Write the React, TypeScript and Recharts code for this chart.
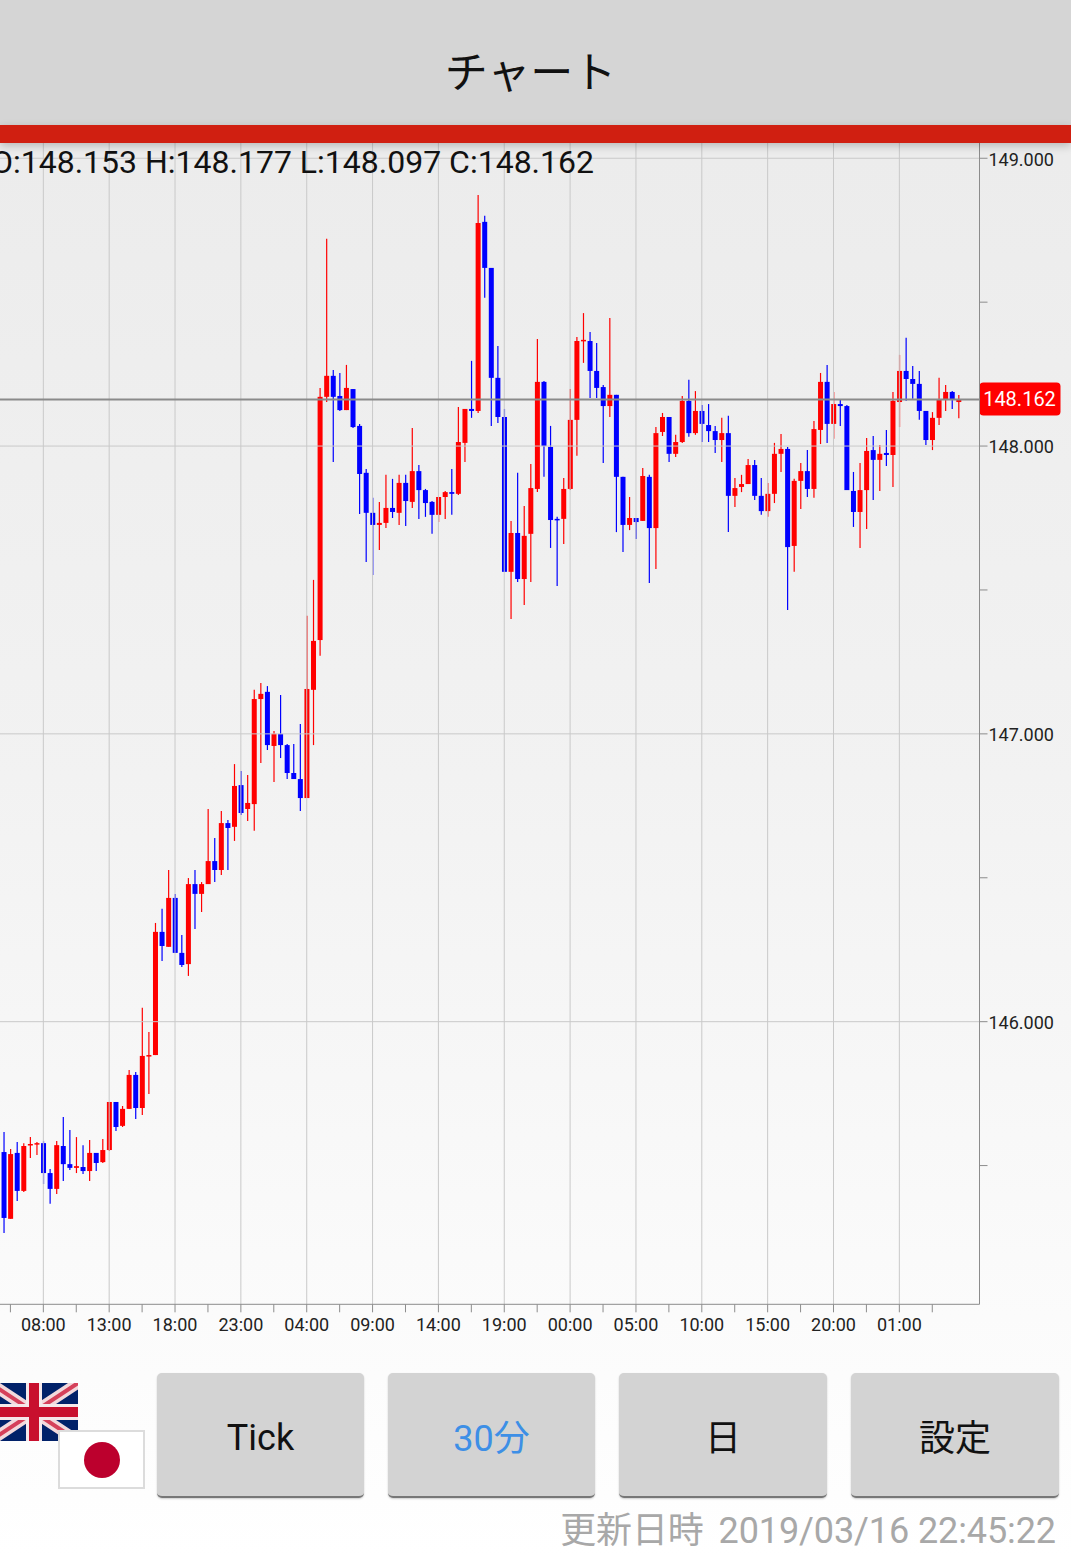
import React from "react"
import { BarChart, Bar, XAxis, YAxis, ReferenceLine } from "recharts"

// 30 minute candles, oldest first
const opens = [
  145.547, 145.315, 145.544, 145.412, 145.571, 145.575, 145.578, 145.474, 145.419, 145.568,
  145.505, 145.492, 145.495, 145.481, 145.544, 145.512, 145.554, 145.721, 145.638, 145.697,
  145.815, 145.700, 145.881, 145.884, 146.312, 146.260, 146.430, 146.239, 146.200, 146.478,
  146.444, 146.478, 146.558, 146.527, 146.690, 146.677, 146.822, 146.739, 146.756, 147.121,
  147.146, 146.958, 147.000, 146.961, 146.864, 146.843, 146.777, 147.153, 147.326, 148.171,
  148.244, 148.174, 148.125, 148.198, 148.070, 147.907, 147.768, 147.726, 147.733, 147.785,
  147.768, 147.872, 147.806, 147.913, 147.847, 147.806, 147.761, 147.823, 147.840, 147.834,
  148.011, 148.129, 148.122, 148.779, 148.619, 148.237, 148.101, 147.563, 147.698, 147.538,
  147.695, 147.851, 148.223, 147.997, 147.747, 147.747, 147.851, 148.091, 148.365, 148.365,
  148.261, 148.205, 148.139, 148.178, 147.893, 147.726, 147.750, 147.740, 147.893, 147.715,
  148.049, 148.101, 147.973, 148.014, 148.157, 148.045, 148.122, 148.073, 148.052, 148.021,
  148.045, 147.827, 147.858, 147.868, 147.934, 147.827, 147.774, 147.834, 147.973, 147.990,
  147.653, 147.879, 147.913, 147.851, 148.056, 148.223, 148.077, 148.146, 148.139, 147.844,
  147.771, 147.847, 147.986, 147.952, 147.976, 147.969, 148.153, 148.261, 148.233, 148.216,
  148.122, 148.021, 148.098, 148.160, 148.188, 148.153,
]
const highs = [
  145.617, 145.558, 145.582, 145.578, 145.599, 145.582, 145.585, 145.488, 145.585, 145.669,
  145.624, 145.599, 145.571, 145.589, 145.544, 145.592, 145.721, 145.721, 145.707, 145.832,
  145.825, 146.048, 145.964, 146.343, 146.392, 146.527, 146.444, 146.301, 146.499, 146.527,
  146.485, 146.739, 146.638, 146.732, 146.701, 146.895, 146.871, 146.857, 147.153, 147.177,
  147.166, 147.010, 147.135, 146.965, 146.965, 147.034, 147.410, 147.535, 148.202, 148.720,
  148.264, 148.254, 148.282, 148.198, 148.077, 147.920, 147.820, 147.806, 147.900, 147.886,
  147.900, 147.900, 148.063, 147.934, 147.851, 147.809, 147.823, 147.844, 147.920, 148.136,
  148.129, 148.296, 148.872, 148.800, 148.619, 148.348, 148.129, 147.740, 147.907, 147.792,
  147.938, 148.372, 148.226, 148.070, 147.754, 147.889, 148.198, 148.379, 148.462, 148.396,
  148.358, 148.212, 148.445, 148.178, 147.893, 147.823, 147.750, 147.924, 147.900, 148.066,
  148.115, 148.101, 148.039, 148.174, 148.230, 148.191, 148.143, 148.146, 148.070, 148.098,
  148.105, 147.889, 147.900, 147.955, 147.952, 147.889, 147.872, 148.011, 148.042, 147.997,
  147.886, 147.941, 147.986, 148.087, 148.254, 148.282, 148.188, 148.160, 148.143, 147.910,
  147.941, 148.028, 148.035, 148.004, 148.056, 148.188, 148.317, 148.376, 148.278, 148.261,
  148.122, 148.118, 148.237, 148.212, 148.191, 148.177,
]
const lows = [
  145.266, 145.315, 145.377, 145.408, 145.526, 145.537, 145.436, 145.367, 145.401, 145.446,
  145.485, 145.474, 145.471, 145.446, 145.481, 145.509, 145.551, 145.620, 145.634, 145.697,
  145.662, 145.676, 145.749, 145.884, 146.211, 146.260, 146.239, 146.190, 146.159, 146.322,
  146.381, 146.478, 146.485, 146.510, 146.527, 146.628, 146.718, 146.697, 146.663, 146.899,
  146.944, 146.833, 146.916, 146.843, 146.843, 146.732, 146.777, 146.961, 147.271, 148.153,
  147.945, 148.122, 148.125, 148.063, 147.764, 147.597, 147.552, 147.639, 147.715, 147.750,
  147.726, 147.722, 147.785, 147.747, 147.754, 147.695, 147.736, 147.747, 147.761, 147.830,
  147.945, 148.098, 148.115, 148.515, 148.070, 148.080, 147.563, 147.399, 147.528, 147.448,
  147.528, 147.840, 147.893, 147.646, 147.514, 147.660, 147.847, 147.966, 148.289, 148.167,
  148.167, 147.941, 148.101, 147.701, 147.632, 147.708, 147.677, 147.740, 147.524, 147.573,
  148.035, 147.945, 147.962, 148.011, 148.032, 148.039, 148.014, 148.014, 147.976, 147.945,
  147.701, 147.788, 147.840, 147.868, 147.813, 147.761, 147.754, 147.802, 147.910, 147.430,
  147.563, 147.781, 147.823, 147.820, 148.007, 148.011, 148.025, 148.070, 147.847, 147.719,
  147.646, 147.712, 147.813, 147.844, 147.931, 147.858, 148.066, 148.157, 148.164, 148.091,
  148.004, 147.986, 148.073, 148.122, 148.129, 148.097,
]
const closes = [
  145.318, 145.540, 145.412, 145.568, 145.575, 145.578, 145.474, 145.419, 145.571, 145.505,
  145.492, 145.498, 145.481, 145.544, 145.509, 145.554, 145.721, 145.634, 145.697, 145.815,
  145.700, 145.881, 145.884, 146.312, 146.263, 146.430, 146.239, 146.197, 146.478, 146.444,
  146.478, 146.558, 146.527, 146.690, 146.673, 146.819, 146.725, 146.760, 147.121, 147.139,
  146.961, 147.000, 146.961, 146.864, 146.843, 146.777, 147.156, 147.323, 148.171, 148.244,
  148.171, 148.125, 148.202, 148.066, 147.903, 147.768, 147.726, 147.733, 147.785, 147.771,
  147.872, 147.809, 147.913, 147.847, 147.802, 147.761, 147.823, 147.840, 147.834, 148.014,
  148.129, 148.122, 148.775, 148.619, 148.237, 148.101, 147.563, 147.698, 147.538, 147.688,
  147.854, 148.223, 148.000, 147.743, 147.743, 147.851, 148.091, 148.365, 148.369, 148.261,
  148.202, 148.139, 148.178, 147.893, 147.726, 147.750, 147.736, 147.896, 147.715, 148.045,
  148.101, 147.973, 148.014, 148.157, 148.045, 148.122, 148.077, 148.052, 148.021, 148.045,
  147.827, 147.854, 147.868, 147.934, 147.827, 147.774, 147.834, 147.973, 147.990, 147.649,
  147.879, 147.913, 147.851, 148.059, 148.223, 148.077, 148.146, 148.139, 147.847, 147.771,
  147.847, 147.983, 147.952, 147.973, 147.969, 148.157, 148.261, 148.233, 148.216, 148.122,
  148.021, 148.098, 148.160, 148.188, 148.160, 148.162,
]

const minorTimeTicks = [1, 11, 21, 31, 41, 51, 61, 71, 81, 91, 101, 111, 121, 131, 141]
const majorTimeTicks = [6, 16, 26, 36, 46, 56, 66, 76, 86, 96, 106, 116, 126, 136]
const timeLabels = [
  "08:00", "13:00", "18:00", "23:00", "04:00", "09:00", "14:00",
  "19:00", "00:00", "05:00", "10:00", "15:00", "20:00", "01:00",
]
const priceTicks = [145.5, 146, 146.5, 147, 147.5, 148, 148.5, 149]
const gridPrices = [146, 147, 148, 149]
const lastPrice = 148.162

const data = opens.map((open, i) => ({
  i,
  open,
  high: highs[i],
  low: lows[i],
  close: closes[i],
}))

const UP = "#ff0000"
const DOWN = "#0000ff"
const GRID = "#c9c9c9"
const AXIS = "#8c8c8c"
const SANS = "Roboto, sans-serif"
const CJK = "'Noto Sans CJK JP', sans-serif"

function Candle(props: any) {
  const { x, y, width, height, payload } = props
  const { open, high, low, close } = payload
  const perUnit = height / (high - low)
  const top = y + (high - Math.max(open, close)) * perUnit
  const bottom = y + (high - Math.min(open, close)) * perUnit
  const color = close >= open ? UP : DOWN
  const mid = x + width / 2
  return (
    <g>
      <line x1={mid} x2={mid} y1={y} y2={y + height} stroke={color} strokeWidth={1.2} />
      <rect x={x} y={top} width={width} height={Math.max(bottom - top, 1.5)} fill={color} />
    </g>
  )
}

function PriceTag(props: any) {
  const { viewBox } = props
  const right = viewBox.x + viewBox.width
  return (
    <g>
      <rect x={right} y={viewBox.y - 17} width={81} height={33} rx={4} fill="#ff0000" />
      <text x={right + 40} y={viewBox.y + 7} textAnchor="middle" fill="#fff" fontSize={20} fontFamily={SANS}>
        {lastPrice.toFixed(3)}
      </text>
    </g>
  )
}

function formatTime(i: number) {
  const pos = majorTimeTicks.indexOf(i)
  return pos >= 0 ? timeLabels[pos] : ""
}

function formatPrice(v: number) {
  return Number.isInteger(v) ? v.toFixed(3) : ""
}

function UkFlag() {
  return (
    <svg style={{ position: "absolute", left: -10, top: 1383 }} width={88} height={58} viewBox="0 0 88 58">
      <rect width={88} height={58} fill="#012169" />
      <path d="M0 0L88 58M88 0L0 58" stroke="#f2d9dc" strokeWidth={11} />
      <path d="M0 0L88 58M88 0L0 58" stroke="#d5405a" strokeWidth={4} />
      <path d="M44 0V58M0 29H88" stroke="#f5e8ea" strokeWidth={16} />
      <path d="M44 0V58M0 29H88" stroke="#c8102e" strokeWidth={10} />
    </svg>
  )
}

function JpFlag() {
  return (
    <svg style={{ position: "absolute", left: 58, top: 1430 }} width={87} height={59} viewBox="0 0 87 59">
      <rect x={1} y={1} width={85} height={57} fill="#fff" stroke="#dcdcdc" strokeWidth={2} />
      <circle cx={44} cy={30} r={18} fill="#bc002d" />
    </svg>
  )
}

function Button({ left, width, label, color, font, nudge = 0 }: any) {
  return (
    <div
      style={{
        position: "absolute",
        left,
        top: 1373,
        width,
        height: 125,
        boxSizing: "border-box",
        paddingTop: nudge,
        background: "#d3d3d3",
        borderRadius: 5,
        borderBottom: "2px solid #777",
        boxShadow: "0 1px 2px rgba(0,0,0,0.2)",
        display: "flex",
        alignItems: "center",
        justifyContent: "center",
        fontFamily: font,
        fontSize: 36,
        color,
      }}
    >
      {label}
    </div>
  )
}

export default function App() {
  return (
    <div
      style={{
        position: "absolute",
        left: 0,
        top: 0,
        width: 1071,
        height: 1556,
        overflow: "hidden",
        background: "linear-gradient(#ececec 10%, #f2f2f2 50%, #ffffff 100%)",
      }}
    >
      <BarChart
        width={1071}
        height={1556}
        data={data}
        margin={{ top: 143, right: 0, bottom: 211.7, left: 0 }}
        barCategoryGap={0}
      >
        <XAxis
          dataKey="i"
          height={40}
          padding={{ left: 0.53, right: 17.6 }}
          ticks={[...minorTimeTicks, ...majorTimeTicks].sort((a, b) => a - b)}
          interval={0}
          tickFormatter={formatTime}
          tickSize={8}
          tickMargin={6}
          stroke={AXIS}
          tick={{ fill: "#222", fontSize: 18, fontFamily: SANS }}
        />
        <YAxis
          orientation="right"
          width={91.5}
          domain={[145.018, 149.053]}
          allowDataOverflow
          ticks={priceTicks}
          interval={0}
          tickFormatter={formatPrice}
          tickSize={8}
          tickMargin={1}
          stroke={AXIS}
          tick={{ fill: "#222", fontSize: 18, fontFamily: SANS, textAnchor: "start", dy: 1 }}
        />
        {majorTimeTicks.map((t) => (
          <ReferenceLine key={t} x={t} stroke={GRID} strokeWidth={1} />
        ))}
        {gridPrices.map((p) => (
          <ReferenceLine key={p} y={p} stroke={GRID} strokeWidth={1} />
        ))}
        <Bar
          dataKey={(d: any) => [d.low, d.high]}
          barSize={5}
          shape={<Candle />}
          isAnimationActive={false}
        />
        <ReferenceLine y={lastPrice} stroke="#8a8a8a" strokeWidth={2} label={<PriceTag />} />
      </BarChart>

      <div
        style={{
          position: "absolute",
          left: 0,
          top: 0,
          width: 1071,
          height: 125,
          background: "#d5d5d5",
          display: "flex",
          alignItems: "center",
          justifyContent: "center",
          paddingRight: 10,
          paddingTop: 12,
          boxSizing: "border-box",
          fontFamily: CJK,
          fontSize: 43,
          color: "#111",
        }}
      >
        チャート
      </div>
      <div
        style={{
          position: "absolute",
          left: 0,
          top: 125,
          width: 1071,
          height: 18,
          background: "#d01f11",
          boxShadow: "0 3px 8px rgba(0,0,0,0.22)",
        }}
      />
      <div
        style={{
          position: "absolute",
          left: -206,
          top: 143,
          width: 800,
          textAlign: "right",
          whiteSpace: "nowrap",
          fontFamily: SANS,
          fontSize: 32,
          lineHeight: "38px",
          color: "#111",
        }}
      >
        O:148.153 H:148.177 L:148.097 C:148.162
      </div>

      <UkFlag />
      <JpFlag />
      <Button left={157} width={207} label="Tick" color="#111" font={SANS} nudge={6} />
      <Button left={388} width={207} label="30分" color="#3d8fe6" font={`Roboto, ${CJK}`} />
      <Button left={619} width={208} label="日" color="#111" font={CJK} />
      <Button left={851} width={208} label="設定" color="#111" font={CJK} />

      <div
        style={{
          position: "absolute",
          right: 15,
          top: 1507,
          whiteSpace: "nowrap",
          fontFamily: `Roboto, ${CJK}`,
          fontSize: 36,
          lineHeight: "48px",
          letterSpacing: -0.1,
          color: "#a8a8a8",
        }}
      >
        <span style={{ marginRight: 6 }}>更新日時</span> 2019/03/16 22:45:22
      </div>
    </div>
  )
}
